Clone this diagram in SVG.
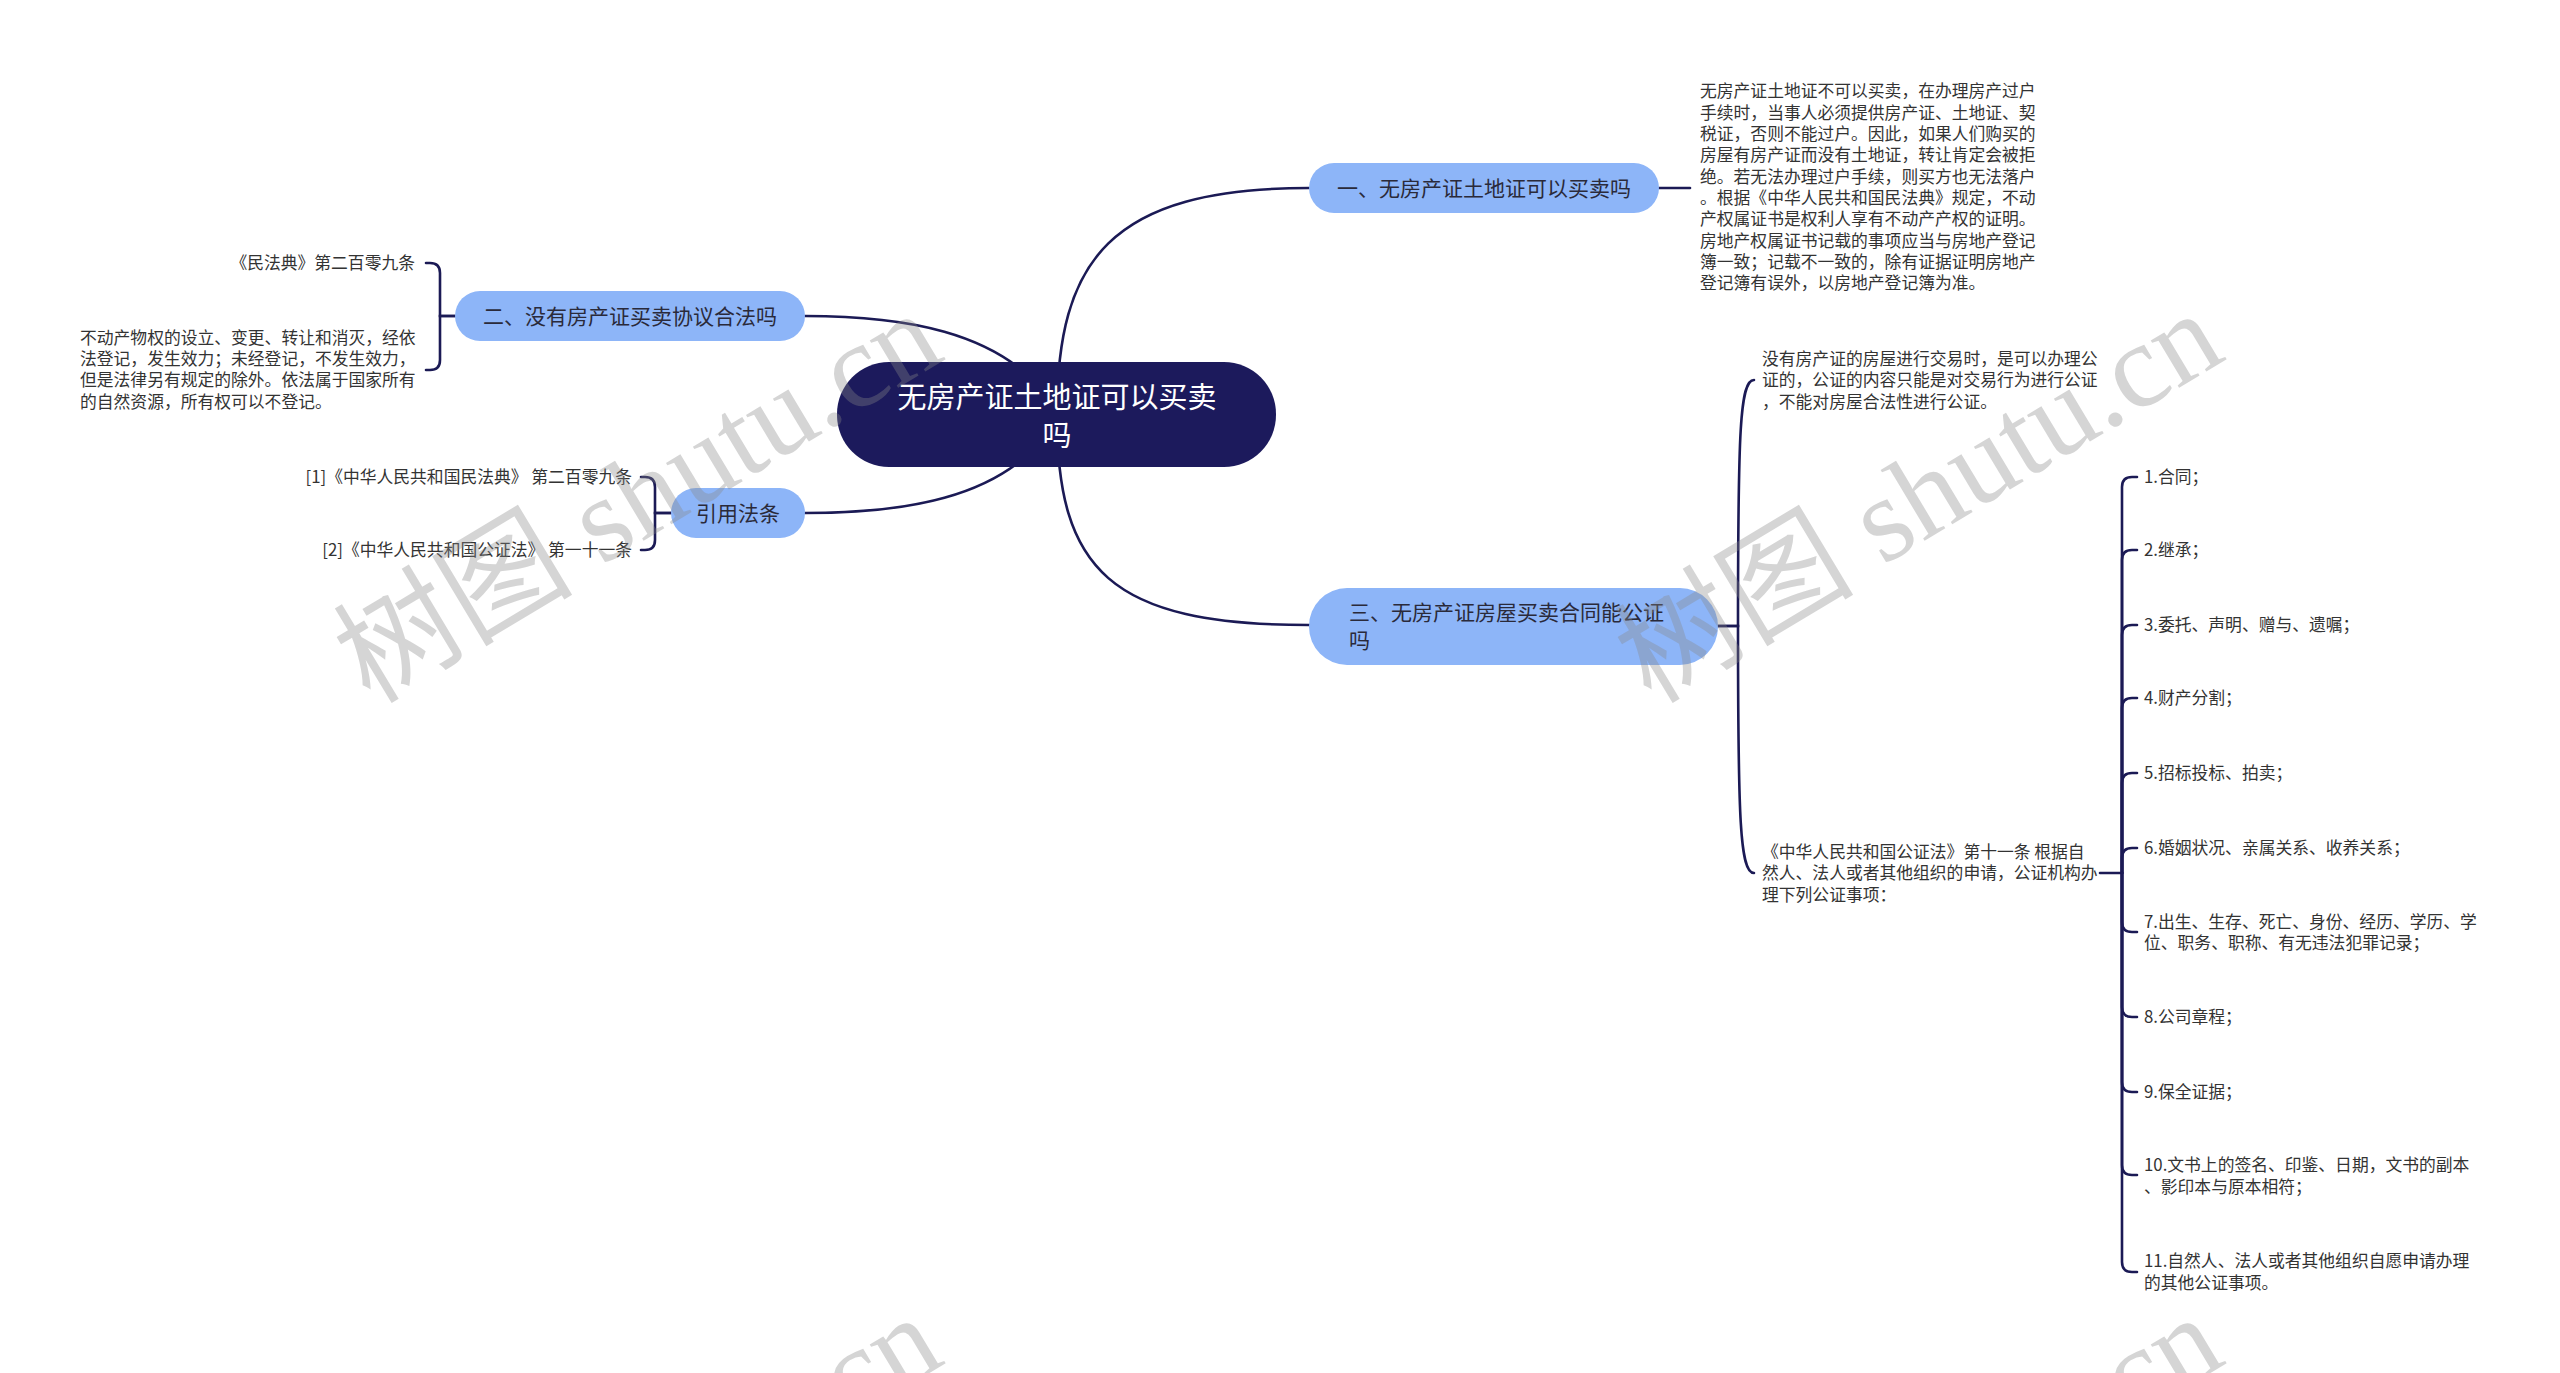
<svg xmlns="http://www.w3.org/2000/svg" width="2560" height="1373" viewBox="0 0 2560 1373">
<defs>
<style>
text{font-family:"Noto Sans CJK SC","Noto Sans",sans-serif}
.link{fill:none;stroke:#1b1a55;stroke-width:2.6;stroke-linecap:round}
.root rect{fill:#1c1a5c}
.root text{fill:#fff;font-size:29px;text-anchor:middle}
.main rect{fill:#8db5f8}
.main text{fill:#2a2a3a;font-size:21px}
.leaf text{fill:#333;font-size:16.8px}
.r text{text-anchor:end}
.wm{font-family:"Liberation Serif","Noto Sans CJK SC",serif;font-size:120px;fill:#888;opacity:.35}
</style>
</defs>
<rect width="2560" height="1373" fill="#fff"/>
<g id="connectors">
<path class="link" d="M1057 415 C1057 260 1110 188 1309 188"/>
<path class="link" d="M1057 415 C1057 570 1110 625 1309 625"/>
<path class="link" d="M1050 400 C1000 330 900 316 805 316"/>
<path class="link" d="M1050 430 C1000 500 900 513 805 513"/>
<path class="link" d="M1659 188 H1690"/>
<path class="link" d="M455 316 H440 V273 Q440 263 430 263 H426"/>
<path class="link" d="M455 316 H440 V360 Q440 370 430 370 H426"/>
<path class="link" d="M671 513 H655 V487 Q655 477 645 477 H641"/>
<path class="link" d="M671 513 H655 V540 Q655 550 645 550 H641"/>
<path class="link" d="M1718 626 H1738 C1738 430 1740 380 1754 380"/>
<path class="link" d="M1718 626 H1738 C1738 820 1740 873 1754 873"/>
<path class="link" d="M2100 873 H2122"/>
<path class="link" d="M2122 873 V487 Q2122 477 2132 477 H2137"/>
<path class="link" d="M2122 873 V560 Q2122 550 2132 550 H2137"/>
<path class="link" d="M2122 873 V635 Q2122 625 2132 625 H2137"/>
<path class="link" d="M2122 873 V708 Q2122 698 2132 698 H2137"/>
<path class="link" d="M2122 873 V783 Q2122 773 2132 773 H2137"/>
<path class="link" d="M2122 873 V858 Q2122 848 2132 848 H2137"/>
<path class="link" d="M2122 873 V922 Q2122 932 2132 932 H2137"/>
<path class="link" d="M2122 873 V1007 Q2122 1017 2132 1017 H2137"/>
<path class="link" d="M2122 873 V1082 Q2122 1092 2132 1092 H2137"/>
<path class="link" d="M2122 873 V1165 Q2122 1175 2132 1175 H2137"/>
<path class="link" d="M2122 873 V1262 Q2122 1272 2132 1272 H2137"/>
</g>
<g id="root" class="root">
<rect x="837" y="362" width="439" height="105" rx="52"/>
<text x="1057" y="408">无房产证土地证可以买卖</text>
<text x="1057" y="446">吗</text>
</g>
<g id="b1" class="main">
<rect x="1309" y="163" width="350" height="50" rx="25"/>
<text x="1484" y="196" text-anchor="middle">一、无房产证土地证可以买卖吗</text>
</g>
<g id="b2" class="main">
<rect x="455" y="291" width="350" height="50" rx="25"/>
<text x="630" y="324" text-anchor="middle">二、没有房产证买卖协议合法吗</text>
</g>
<g id="b4" class="main">
<rect x="671" y="488" width="134" height="50" rx="25"/>
<text x="738" y="521" text-anchor="middle">引用法条</text>
</g>
<g id="b3" class="main">
<rect x="1309" y="588" width="409" height="77" rx="38"/>
<text x="1349" y="620">三、无房产证房屋买卖合同能公证</text>
<text x="1349" y="648">吗</text>
</g>
<g id="t1" class="leaf">
<text x="1700" y="97">无房产证土地证不可以买卖，在办理房产过户</text>
<text x="1700" y="119">手续时，当事人必须提供房产证、土地证、契</text>
<text x="1700" y="140">税证，否则不能过户。因此，如果人们购买的</text>
<text x="1700" y="161">房屋有房产证而没有土地证，转让肯定会被拒</text>
<text x="1700" y="183">绝。若无法办理过户手续，则买方也无法落户</text>
<text x="1700" y="204">。根据《中华人民共和国民法典》规定，不动</text>
<text x="1700" y="225">产权属证书是权利人享有不动产产权的证明。</text>
<text x="1700" y="247">房地产权属证书记载的事项应当与房地产登记</text>
<text x="1700" y="268">簿一致；记载不一致的，除有证据证明房地产</text>
<text x="1700" y="289">登记簿有误外，以房地产登记簿为准。</text>
</g>
<g id="t2a" class="leaf r">
<text x="415" y="269">《民法典》第二百零九条</text>
</g>
<g id="t2b" class="leaf">
<text x="80" y="344">不动产物权的设立、变更、转让和消灭，经依</text>
<text x="80" y="365">法登记，发生效力；未经登记，不发生效力，</text>
<text x="80" y="386">但是法律另有规定的除外。依法属于国家所有</text>
<text x="80" y="408">的自然资源，所有权可以不登记。</text>
</g>
<g id="t4a" class="leaf r">
<text x="632" y="483">[1]《中华人民共和国民法典》 第二百零九条</text>
</g>
<g id="t4b" class="leaf r">
<text x="632" y="556">[2]《中华人民共和国公证法》 第一十一条</text>
</g>
<g id="t3a" class="leaf">
<text x="1762" y="365">没有房产证的房屋进行交易时，是可以办理公</text>
<text x="1762" y="386">证的，公证的内容只能是对交易行为进行公证</text>
<text x="1762" y="408">，不能对房屋合法性进行公证。</text>
</g>
<g id="t3b" class="leaf">
<text x="1762" y="858">《中华人民共和国公证法》第十一条 根据自</text>
<text x="1762" y="879">然人、法人或者其他组织的申请，公证机构办</text>
<text x="1762" y="901">理下列公证事项：</text>
</g>
<g id="i1" class="leaf"><text x="2144" y="483">1.合同；</text></g>
<g id="i2" class="leaf"><text x="2144" y="556">2.继承；</text></g>
<g id="i3" class="leaf"><text x="2144" y="631">3.委托、声明、赠与、遗嘱；</text></g>
<g id="i4" class="leaf"><text x="2144" y="704">4.财产分割；</text></g>
<g id="i5" class="leaf"><text x="2144" y="779">5.招标投标、拍卖；</text></g>
<g id="i6" class="leaf"><text x="2144" y="854">6.婚姻状况、亲属关系、收养关系；</text></g>
<g id="i7" class="leaf"><text x="2144" y="928">7.出生、生存、死亡、身份、经历、学历、学</text><text x="2144" y="949">位、职务、职称、有无违法犯罪记录；</text></g>
<g id="i8" class="leaf"><text x="2144" y="1023">8.公司章程；</text></g>
<g id="i9" class="leaf"><text x="2144" y="1098">9.保全证据；</text></g>
<g id="i10" class="leaf"><text x="2144" y="1171">10.文书上的签名、印鉴、日期，文书的副本</text><text x="2144" y="1193">、影印本与原本相符；</text></g>
<g id="i11" class="leaf"><text x="2144" y="1267">11.自然人、法人或者其他组织自愿申请办理</text><text x="2144" y="1289">的其他公证事项。</text></g>
<g id="watermark">
<text class="wm" transform="translate(370 705) rotate(-31)">树图 shutu.cn</text>
<text class="wm" transform="translate(1651 705) rotate(-31)">树图 shutu.cn</text>
<text class="wm" transform="translate(370 1709) rotate(-31)">树图 shutu.cn</text>
<text class="wm" transform="translate(1651 1709) rotate(-31)">树图 shutu.cn</text>
</g>
</svg>
